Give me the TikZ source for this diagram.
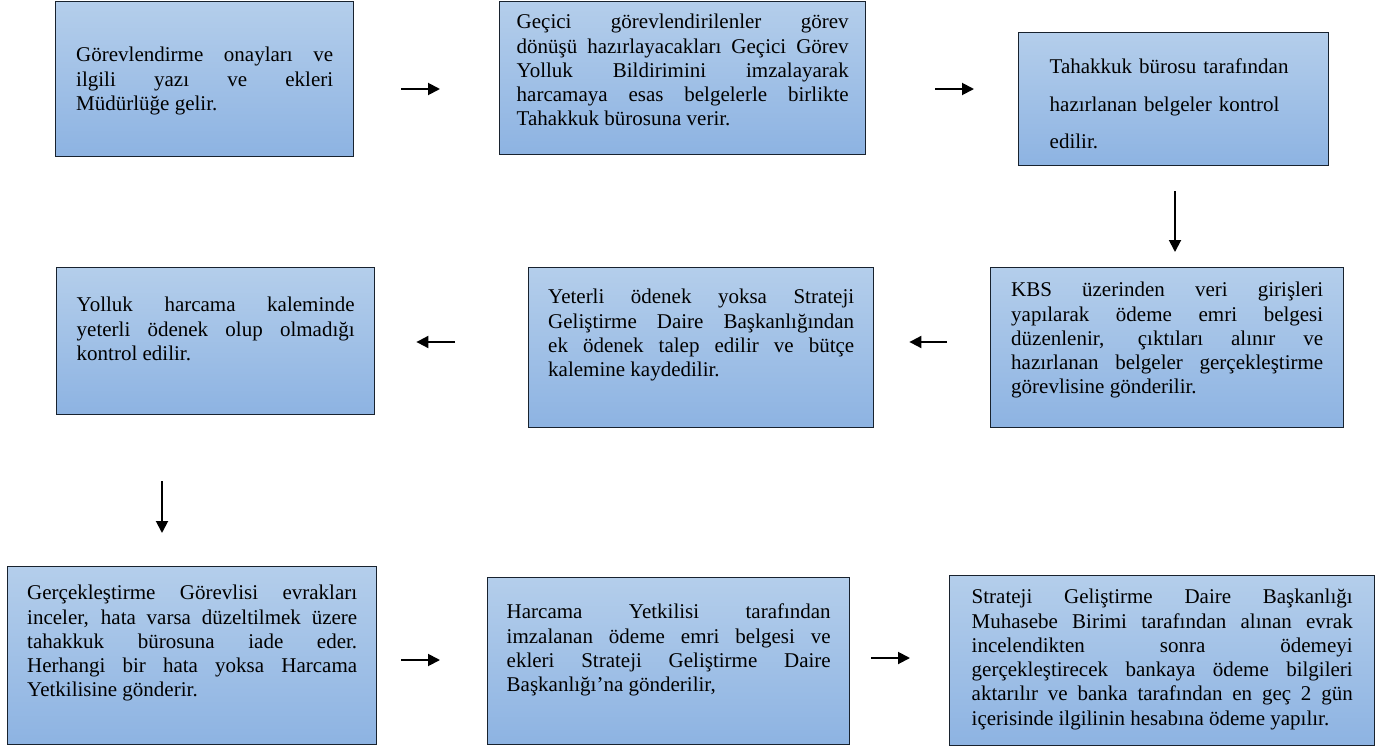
\documentclass[tikz,border=0pt]{standalone}
\usepackage{fontspec}
\setmainfont{Liberation Serif}
\usepackage{tikz}
\usetikzlibrary{arrows.meta}
\definecolor{acik}{HTML}{B4CEEB}
\definecolor{koyu}{HTML}{8DB3E2}
\definecolor{kenar}{HTML}{18222E}
\newcommand{\yazi}{\fontsize{21}{24.3}\selectfont}
\tolerance=10000
\hyphenpenalty=10000
\tikzset{kutu/.style={
    draw=kenar,
    line width=1.4pt,
    top color=acik,
    bottom color=koyu,
    anchor=north west,
    inner sep=0pt,
    font=\yazi,
    align=justify},
  ok/.style={
    -{Triangle[length=12pt,width=12pt]},
    line width=1.9pt}}

\begin{document}
\begin{tikzpicture}[x=1pt, y=-1pt]

\useasboundingbox (0,0) rectangle (1385,747);

\coordinate (K1) at (55,1);
\coordinate (K2) at (499,1);
\coordinate (K3) at (1018,32);
\coordinate (K4) at (990,267);
\coordinate (K5) at (528,267);
\coordinate (K6) at (56,267);
\coordinate (K7) at (7,566);
\coordinate (K8) at (487,577);
\coordinate (K9) at (949,575);

\node[kutu,
  minimum width=298pt,
  text width=257pt,
  text height=60pt,
  text depth=95pt] (b1) at (K1) {Görevlendirme onayları ve\linebreak ilgili yazı ve ekleri\linebreak Müdürlüğe gelir.};

\node[kutu,
  minimum width=366pt,
  text width=332pt,
  text height=27pt,
  text depth=126pt] (b2) at (K2) {Geçici görevlendirilenler görev\linebreak dönüşü hazırlayacakları Geçici Görev\linebreak Yolluk Bildirimini imzalayarak\linebreak harcamaya esas belgelerle birlikte\linebreak Tahakkuk bürosuna verir.};

\node[kutu,
  font=\fontsize{21}{37.5}\selectfont,
  align=left,
  minimum width=310pt,
  text width=248pt,
  text height=41pt,
  text depth=92pt] (b3) at (K3) {Tahakkuk bürosu tarafından\\hazırlanan belgeler kontrol\\edilir.};

\node[kutu,
  minimum width=353pt,
  text width=312pt,
  text height=29pt,
  text depth=131pt] (b4) at (K4) {KBS üzerinden veri girişleri\linebreak yapılarak ödeme emri belgesi\linebreak düzenlenir, çıktıları alınır ve\linebreak hazırlanan belgeler gerçekleştirme\linebreak görevlisine gönderilir.};

\node[kutu,
  minimum width=345pt,
  text width=306pt,
  text height=36pt,
  text depth=124pt] (b5) at (K5) {Yeterli ödenek yoksa Strateji\linebreak Geliştirme Daire Başkanlığından\linebreak ek ödenek talep edilir ve bütçe\linebreak kalemine kaydedilir.};

\node[kutu,
  minimum width=318pt,
  text width=278pt,
  text height=44pt,
  text depth=103pt] (b6) at (K6) {Yolluk harcama kaleminde\linebreak yeterli ödenek olup olmadığı\linebreak kontrol edilir.};

\node[kutu,
  minimum width=369pt,
  text width=330pt,
  text height=33pt,
  text depth=145pt] (b7) at (K7) {Gerçekleştirme Görevlisi evrakları\linebreak inceler, hata varsa düzeltilmek üzere\linebreak tahakkuk bürosuna iade eder.\linebreak Herhangi bir hata yoksa Harcama\linebreak Yetkilisine gönderir.};

\node[kutu,
  minimum width=362pt,
  text width=324pt,
  text height=41pt,
  text depth=126pt] (b8) at (K8) {Harcama Yetkilisi tarafından\linebreak imzalanan ödeme emri belgesi ve\linebreak ekleri Strateji Geliştirme Daire\linebreak Başkanlığı’na gönderilir,};

\node[kutu,
  minimum width=425pt,
  text width=381pt,
  text height=28pt,
  text depth=142pt] (b9) at (K9) {Strateji Geliştirme Daire Başkanlığı\linebreak Muhasebe Birimi tarafından alınan evrak\linebreak incelendikten sonra ödemeyi\linebreak gerçekleştirecek bankaya ödeme bilgileri\linebreak aktarılır ve banka tarafından en geç 2 gün\linebreak içerisinde ilgilinin hesabına ödeme yapılır.};

\draw[ok, shorten <=47pt, shorten >=59pt] (b1.east |- 0,89) -- (b2.west |- 0,89);
\draw[ok, shorten <=69pt, shorten >=44pt] (b2.east |- 0,89) -- (b3.west |- 0,89);
\draw[ok, shorten <=25pt, shorten >=15pt] (1175,0 |- b3.south) -- (1175,0 |- b4.north);
\draw[ok, shorten <=43pt, shorten >=35pt] (b4.west |- 0,342) -- (b5.east |- 0,342);
\draw[ok, shorten <=73pt, shorten >=41pt] (b5.west |- 0,342) -- (b6.east |- 0,342);
\draw[ok, shorten <=66pt, shorten >=33pt] (162,0 |- b6.south) -- (162,0 |- b7.north);
\draw[ok, shorten <=24pt, shorten >=47pt] (b7.east |- 0,660) -- (b8.west |- 0,660);
\draw[ok, shorten <=21pt, shorten >=39pt] (b8.east |- 0,658) -- (b9.west |- 0,658);

\end{tikzpicture}
\end{document}
